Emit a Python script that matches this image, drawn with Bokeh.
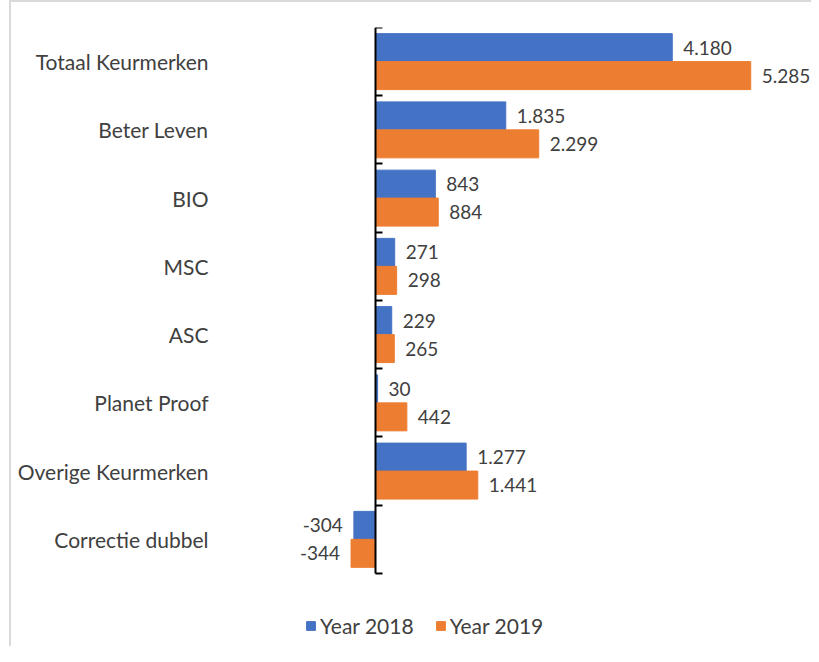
from bokeh.plotting import figure
from bokeh.models import (ColumnDataSource, Range1d, LinearAxis, FixedTicker,
                          Legend, LegendItem)
from bokeh.transform import dodge
from bokeh.embed import file_html
from bokeh.resources import INLINE

categories = ["Totaal Keurmerken", "Beter Leven", "BIO", "MSC", "ASC",
              "Planet Proof", "Overige Keurmerken", "Correctie dubbel"]
year_2018 = [4180, 1835, 843, 271, 229, 30, 1277, -304]
year_2019 = [5285, 2299, 884, 298, 265, 442, 1441, -344]
series_names = ["Year 2018", "Year 2019"]

BLUE = "#4472C4"
ORANGE = "#ED7D31"
TEXT = "#404040"
FONT = "Lato"

n = len(categories)
pos = list(range(n))


def fmt(v):
    return f"{v:,}".replace(",", ".")


def make_source(vals):
    return ColumnDataSource(dict(
        pos=pos,
        val=vals,
        label=[fmt(v) for v in vals],
        align=["left" if v >= 0 else "right" for v in vals],
        xoff=[11 if v >= 0 else -11 for v in vals],
    ))


s18 = make_source(year_2018)
s19 = make_source(year_2019)

p = figure(width=811, height=646, output_backend="svg", toolbar_location=None,
           x_range=Range1d(-2253, 6141), y_range=Range1d(8.57, -0.5),
           x_axis_location=None, y_axis_location=None,
           min_border_left=215, min_border_right=0, min_border_top=27,
           min_border_bottom=0)
p.outline_line_color = None
p.xgrid.visible = False
p.ygrid.visible = False
p.border_fill_color = None
p.background_fill_color = None
p.styles = {
    "background-color": "white",
    "background-image": "linear-gradient(#d9d9d9, #d9d9d9), linear-gradient(#d9d9d9, #d9d9d9)",
    "background-size": "2px 100%, 100% 2px",
    "background-position": "9px 0px, 9px 0px",
    "background-repeat": "no-repeat",
}

bh = 0.41
r18 = p.hbar(y=dodge("pos", -bh / 2), right="val", left=0, height=bh,
             source=s18, color=BLUE)
r19 = p.hbar(y=dodge("pos", bh / 2), right="val", left=0, height=bh,
             source=s19, color=ORANGE)

for src, off in ((s18, -bh / 2), (s19, bh / 2)):
    p.text(x="val", y=dodge("pos", off), text="label", source=src,
           text_align="align", x_offset="xoff", text_baseline="middle",
           text_font={"value": FONT}, text_font_size="19px", text_color=TEXT)

# category labels axis
lab_axis = LinearAxis(ticker=FixedTicker(ticks=pos),
                      major_label_overrides={i: c for i, c in zip(pos, categories)})
lab_axis.axis_line_color = None
lab_axis.major_tick_line_color = None
lab_axis.minor_tick_line_color = None
lab_axis.major_tick_out = 0
lab_axis.major_label_standoff = 7
lab_axis.major_label_text_font = FONT
lab_axis.major_label_text_font_size = "21px"
lab_axis.major_label_text_color = TEXT
p.add_layout(lab_axis, "left")

# zero axis with boundary ticks
bounds = [i - 0.5 for i in range(n + 1)]
zero_axis = LinearAxis(ticker=FixedTicker(ticks=bounds), fixed_location=0,
                       bounds=(bounds[0], bounds[-1]))
zero_axis.axis_line_color = "black"
zero_axis.axis_line_width = 2
zero_axis.major_tick_line_color = "black"
zero_axis.major_tick_line_width = 2
zero_axis.major_tick_in = 7
zero_axis.major_tick_out = 0
zero_axis.minor_tick_line_color = None
zero_axis.major_label_text_color = None
zero_axis.major_label_text_font_size = "0px"
p.add_layout(zero_axis, "left")

legend = Legend(items=[LegendItem(label=series_names[0], renderers=[r18]),
                       LegendItem(label=series_names[1], renderers=[r19])],
                location=(90, 8), orientation="horizontal")
legend.border_line_color = None
legend.background_fill_alpha = 0
legend.glyph_width = 11
legend.glyph_height = 11
legend.label_standoff = 4
legend.spacing = 21
legend.padding = 4
legend.margin = 0
legend.label_text_font = FONT
legend.label_text_font_size = "21px"
legend.label_text_color = TEXT
p.add_layout(legend, "center")

open("out.html", "w").write(file_html(p, INLINE))
